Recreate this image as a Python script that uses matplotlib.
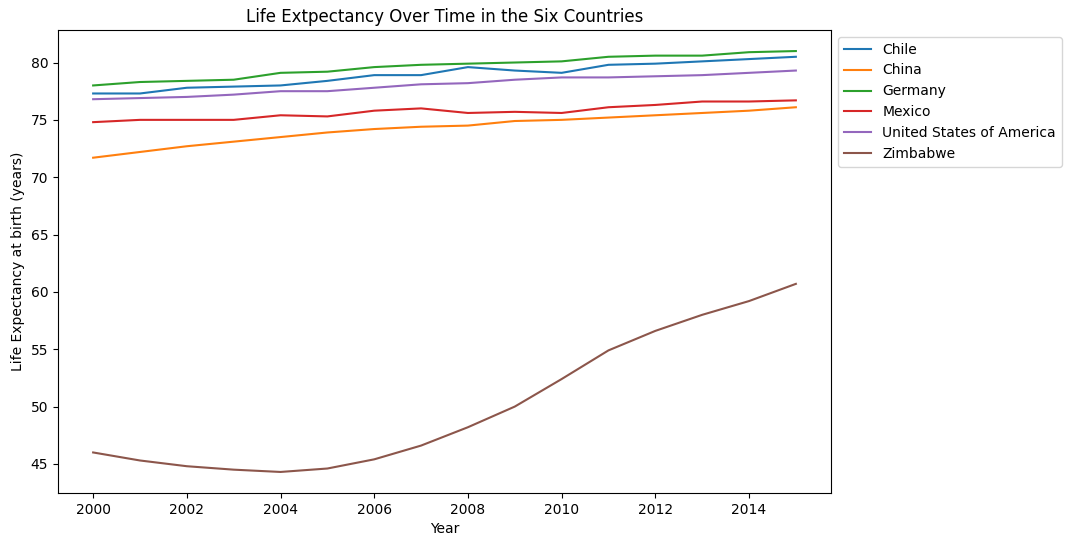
import matplotlib
matplotlib.use("Agg")
import matplotlib.pyplot as plt

years = list(range(2000, 2016))
chile = [77.3, 77.3, 77.8, 77.9, 78.0, 78.4, 78.9, 78.9, 79.6, 79.3, 79.1, 79.8, 79.9, 80.1, 80.3, 80.5]
china = [71.7, 72.2, 72.7, 73.1, 73.5, 73.9, 74.2, 74.4, 74.5, 74.9, 75.0, 75.2, 75.4, 75.6, 75.8, 76.1]
germany = [78.0, 78.3, 78.4, 78.5, 79.1, 79.2, 79.6, 79.8, 79.9, 80.0, 80.1, 80.5, 80.6, 80.6, 80.9, 81.0]
mexico = [74.8, 75.0, 75.0, 75.0, 75.4, 75.3, 75.8, 76.0, 75.6, 75.7, 75.6, 76.1, 76.3, 76.6, 76.6, 76.7]
usa = [76.8, 76.9, 77.0, 77.2, 77.5, 77.5, 77.8, 78.1, 78.2, 78.5, 78.7, 78.7, 78.8, 78.9, 79.1, 79.3]
zimbabwe = [46.0, 45.3, 44.8, 44.5, 44.3, 44.6, 45.4, 46.6, 48.2, 50.0, 52.4, 54.9, 56.6, 58.0, 59.2, 60.7]

countries = ["Chile", "China", "Germany", "Mexico", "United States of America", "Zimbabwe"]
series = [chile, china, germany, mexico, usa, zimbabwe]

fig = plt.figure(figsize=(10.72, 5.45), dpi=100)
ax = fig.add_axes([58/1072, 1-493/545, (831-58)/1072, (493-30)/545])
for name, vals in zip(countries, series):
    ax.plot(years, vals, label=name)
ax.set_title("Life Extpectancy Over Time in the Six Countries")
ax.set_xlabel("Year")
ax.set_ylabel("Life Expectancy at birth (years)")
ax.legend(loc="upper left", bbox_to_anchor=(1, 1))
fig.savefig("out.png", dpi=100)
